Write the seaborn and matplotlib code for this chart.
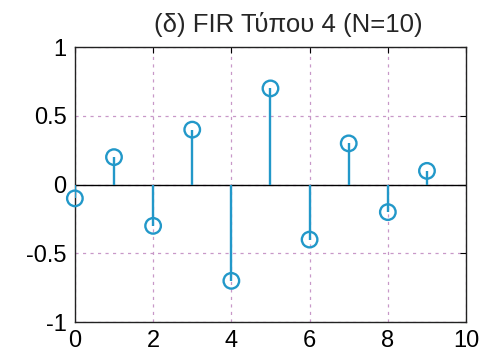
import numpy as np
import pandas as pd
import seaborn as sns
import matplotlib.pyplot as plt

n = [0, 1, 2, 3, 4, 5, 6, 7, 8, 9]
h = [-0.1, 0.2, -0.3, 0.4, -0.7, 0.7, -0.4, 0.3, -0.2, 0.1]
x_ticks = [0, 2, 4, 6, 8, 10]
y_ticks = [-1, -0.5, 0, 0.5, 1]
y_labels = ["-1", "-0.5", "0", "0.5", "1"]
title = "(δ) FIR Τύπου 4 (N=10)"

df = pd.DataFrame({"n": n, "h": h})

sns.set_style("white")
plt.rcParams["font.family"] = ["Liberation Sans", "DejaVu Sans"]

stem_color = "#2298c9"
grid_color = "#c898c8"

fig = plt.figure(figsize=(4.83, 3.52), dpi=100)
ax = fig.add_axes([0.155, 0.085, 0.81, 0.781])

ax.set_xlim(0, 10)
ax.set_ylim(-1, 1)
ax.set_xticks(x_ticks)
ax.set_yticks(y_ticks)
ax.set_yticklabels(y_labels)

ax.grid(True, color=grid_color, linestyle=(0, (2.5, 3.5)), linewidth=0.9)
ax.axhline(0, color="black", linewidth=1.0, zorder=2)

ax.vlines(df["n"], 0, df["h"], color=stem_color, linewidth=1.7, zorder=3)
sns.scatterplot(data=df, x="n", y="h", ax=ax, s=125, marker="o",
                facecolor="none", edgecolor=stem_color, linewidth=1.7,
                zorder=4, clip_on=False)

ax.set_xlabel("")
ax.set_ylabel("")
ax.tick_params(direction="in", top=True, right=True, length=4, width=0.8,
               labelsize=17, colors="black", pad=6)
for s in ax.spines.values():
    s.set_color("#222222")
    s.set_linewidth(1.0)

ax.set_title(title, fontsize=18.5, x=0.545, pad=11)

fig.savefig("out.png", dpi=100, facecolor="white")
